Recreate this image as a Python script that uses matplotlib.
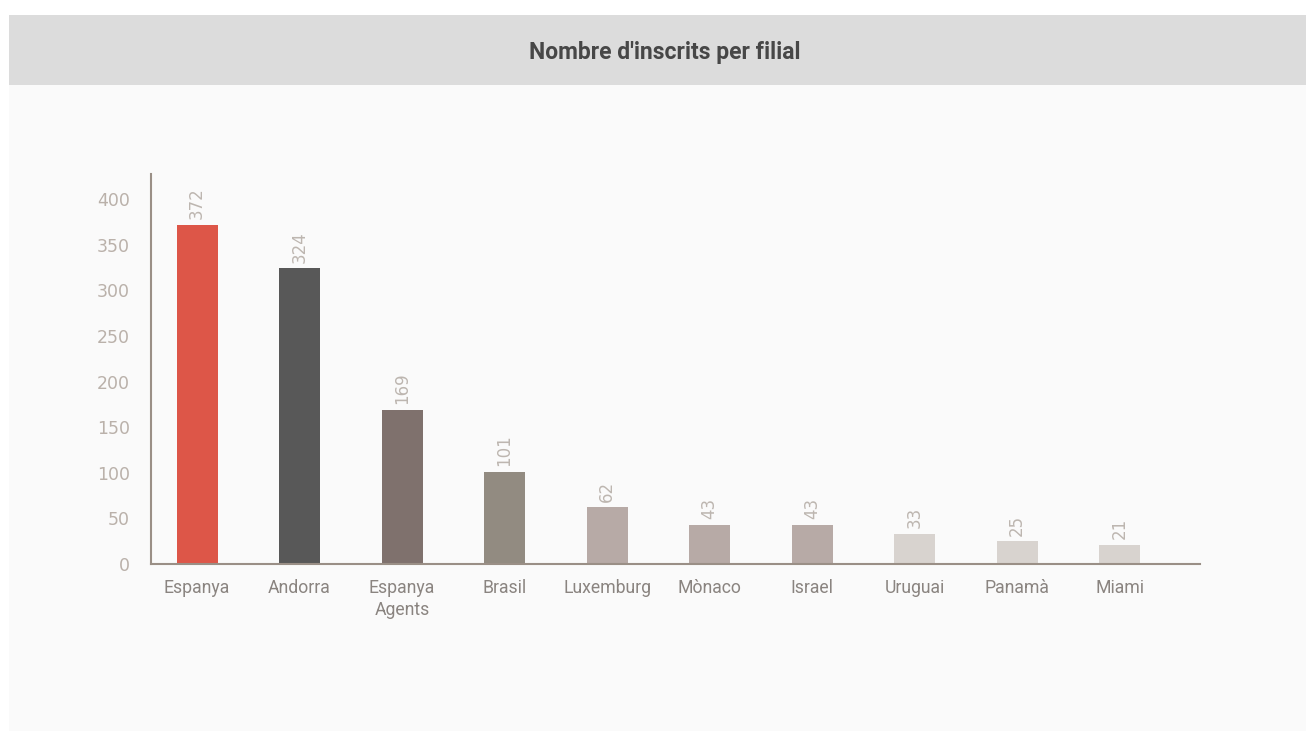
import matplotlib
matplotlib.use("Agg")
import matplotlib.pyplot as plt
from matplotlib.patches import Rectangle

# Registrations per branch
branches = ["Espanya", "Andorra", "Espanya\nAgents", "Brasil", "Luxemburg",
            "Mònaco", "Israel", "Uruguai", "Panamà", "Miami"]
registrations = [372, 324, 169, 101, 62, 43, 43, 33, 25, 21]
bar_colors = ["#dd5648", "#585858", "#7f716d", "#928b81", "#b7aaa6",
              "#b7aaa6", "#b7aaa6", "#d8d3cf", "#d8d3cf", "#d8d3cf"]
y_ticks = [0, 50, 100, 150, 200, 250, 300, 350, 400]

W, H = 1306, 731
fig = plt.figure(figsize=(W / 100, H / 100), dpi=100)
fig.patch.set_facecolor("white")

# Panel background and header band
fig.add_artist(Rectangle((9 / W, 0), 1 - 9 / W, 1 - 85 / H,
                         transform=fig.transFigure, facecolor="#fafafa",
                         edgecolor="none", zorder=-10))
fig.add_artist(Rectangle((9 / W, 1 - 85 / H), 1 - 9 / W, 70 / H,
                         transform=fig.transFigure, facecolor="#dcdcdc",
                         edgecolor="none", zorder=-10))
fig.text(665 / W, 1 - 52 / H, "Nombre d'inscrits per filial",
         ha="center", va="center", fontsize=16.5, fontweight="bold",
         color="#474747", family="Roboto")

ax_left, ax_right = 151, 1200
ax_top, ax_bottom = 174, 564
ax = fig.add_axes([ax_left / W, 1 - ax_bottom / H,
                   (ax_right - ax_left) / W, (ax_bottom - ax_top) / H])
ax.set_facecolor("none")

x = list(range(len(branches)))
bars = ax.bar(x, registrations, width=0.4, color=bar_colors, zorder=2)

for xi, v in zip(x, registrations):
    ax.annotate(str(v), (xi, v), xytext=(0, 4), textcoords="offset points",
                rotation=90, ha="center", va="bottom", fontsize=12,
                color="#bdb6b0", family="DejaVu Sans")

ax.set_xlim(-0.449, 9.785)
ax.set_ylim(0, 427.4)
ax.set_xticks(x)
ax.set_xticklabels(branches, fontsize=12.7, color="#8a8480", family="Roboto",
                   linespacing=1.25)
ax.set_yticks(y_ticks)
ax.set_yticklabels([str(t) for t in y_ticks], fontsize=12.5, color="#bab1aa",
                   family="DejaVu Sans")
ax.tick_params(axis="both", length=0)
ax.tick_params(axis="x", pad=11)
ax.tick_params(axis="y", pad=15)

for s in ["top", "right"]:
    ax.spines[s].set_visible(False)
for s in ["left", "bottom"]:
    ax.spines[s].set_color("#9a8f86")
    ax.spines[s].set_linewidth(1.5)

fig.savefig("out.png", dpi=100, facecolor=fig.get_facecolor())
